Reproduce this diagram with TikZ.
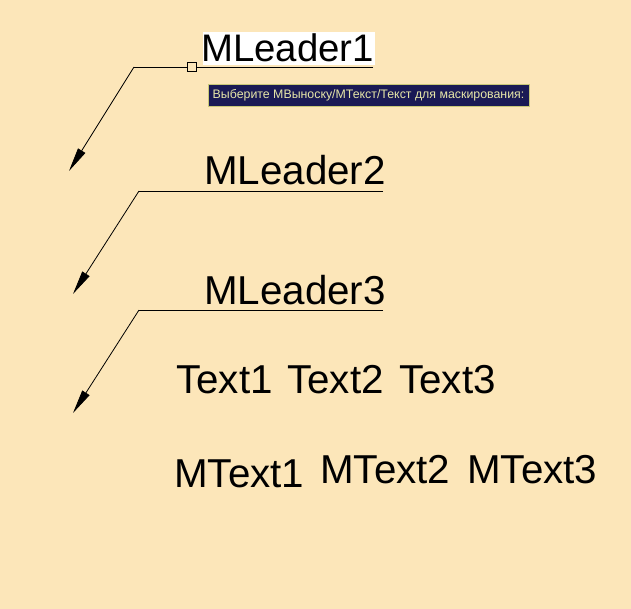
\documentclass[tikz,border=0pt]{standalone}
\usepackage{fontspec}
\setmainfont{Liberation Sans}
\usetikzlibrary{arrows.meta}
\definecolor{bg}{HTML}{FCE6B9}
\definecolor{tipbg}{HTML}{1A1A55}
\definecolor{tipfg}{HTML}{E6E6A8}
\definecolor{tipbd}{HTML}{C8C878}
\begin{document}
\begin{tikzpicture}[x=1bp,y=-1bp,
  big/.style={font=\fontsize{40.5}{42}\selectfont, inner sep=0pt, anchor=base west},
  leader/.style={line width=0.8bp, -{Triangle[length=24bp,width=8.5bp]}},
  landing/.style={line width=0.8bp}]
\fill[bg] (0,0) rectangle (631,609);
\useasboundingbox (0,0) rectangle (631,609);
% MLeader1
\node[fill=white, minimum width=172bp, minimum height=33bp, inner sep=0pt] (mask1) at (289,48.5) {};
\node[big, font=\fontsize{38.5}{40}\selectfont] (ml1) at (201,62) {MLeader1};
\coordinate (e1) at (373,67);
\coordinate (k1) at (134,67);
\coordinate (t1) at (69,171);
\draw[landing] (e1) -- (k1);
\draw[leader] (k1) -- (t1);
\node[draw, fill=bg, minimum size=9bp, inner sep=0pt, line width=0.8bp] (grip) at (192,67) {};
% tooltip
\node[fill=tipbg, draw=tipbd, line width=0.8bp, minimum width=321bp, minimum height=22bp, inner sep=0pt] (tip) at (368.5,95) {};
\node[anchor=west, inner sep=0pt, text=tipfg, font=\fontsize{12.4}{14}\selectfont] (tiptext) at (212.5,95.5) {Выберите МВыноску/МТекст/Текст для маскирования:};
% MLeader2
\node[big] (ml2) at (204,185) {MLeader2};
\coordinate (e2) at (383,191);
\coordinate (k2) at (139,191);
\coordinate (t2) at (73,294);
\draw[landing] (e2) -- (k2);
\draw[leader] (k2) -- (t2);
% MLeader3
\node[big] (ml3) at (204,304) {MLeader3};
\coordinate (e3) at (383,310);
\coordinate (k3) at (139,310);
\coordinate (t3) at (73,413);
\draw[landing] (e3) -- (k3);
\draw[leader] (k3) -- (t3);
% Texts
\node[big] (tx1) at (176,393) {Text1};
\node[big] (tx2) at (287,393) {Text2};
\node[big] (tx3) at (399,393) {Text3};
\node[big] (mt1) at (174,487) {MText1};
\node[big] (mt2) at (320,483) {MText2};
\node[big] (mt3) at (467,483) {MText3};
\end{tikzpicture}
\end{document}
